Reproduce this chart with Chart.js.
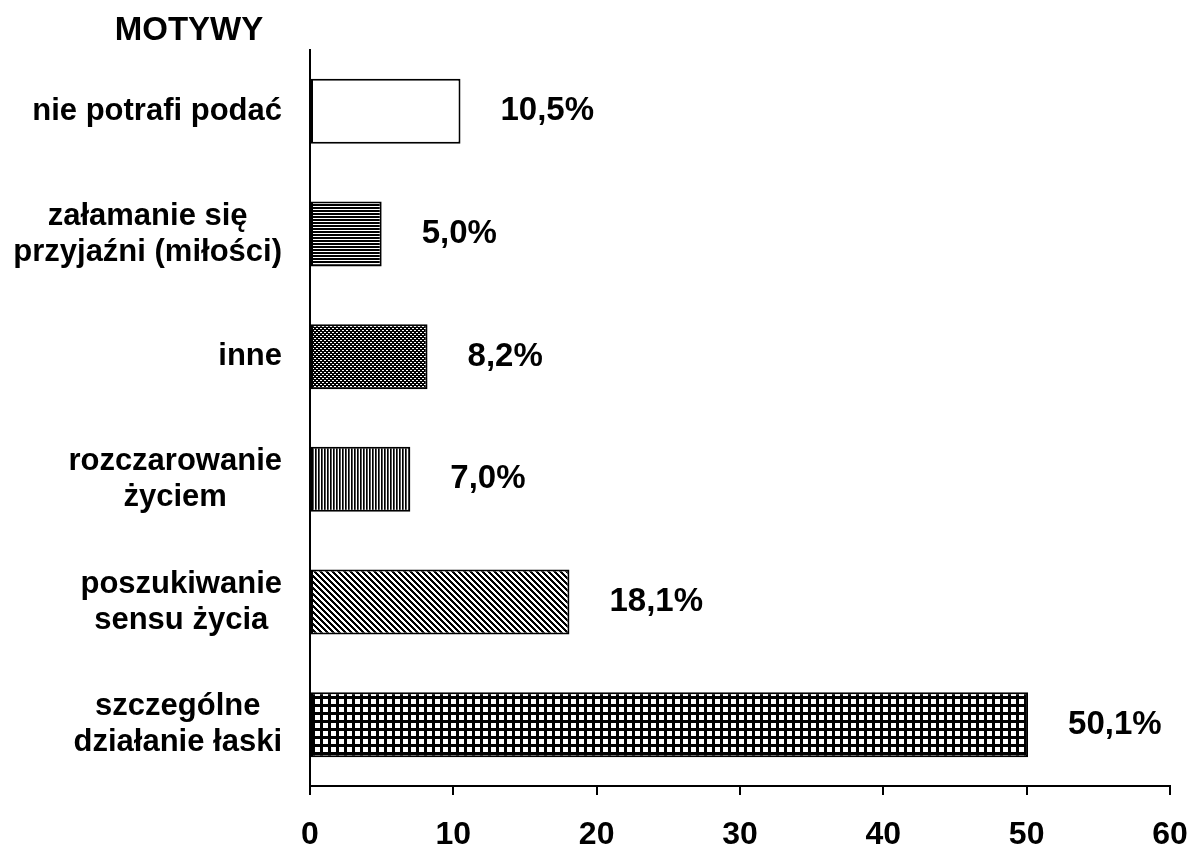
<!DOCTYPE html>
<html>
<head>
<meta charset="utf-8">
<script src="https://cdn.jsdelivr.net/npm/chart.js@4"></script>
<style>
  body { margin: 0; background: #fff; }
  #wrap { width: 1189px; height: 847px; }
</style>
</head>
<body>
<div id="wrap"><canvas id="motywyChart"></canvas></div>
<script>
const categories = [
  ["nie potrafi podać"],
  ["załamanie się", "przyjaźni (miłości)"],
  ["inne"],
  ["rozczarowanie", "życiem"],
  ["poszukiwanie", "sensu życia"],
  ["szczególne", "działanie łaski"]
];
const values = [10.5, 5.0, 8.2, 7.0, 18.1, 50.1];
const valueLabels = ["10,5%", "5,0%", "8,2%", "7,0%", "18,1%", "50,1%"];
const xTickValues = [0, 10, 20, 30, 40, 50, 60];
const axisTitle = "MOTYWY";

const FONT = '"Liberation Sans", Arial, sans-serif';

// small tiles for the hatch fills of the bars
function tile(size, draw) {
  const c = document.createElement("canvas");
  c.width = size;
  c.height = size;
  const g = c.getContext("2d");
  g.fillStyle = "#fff";
  g.fillRect(0, 0, size, size);
  g.fillStyle = "#000";
  draw(g, size);
  return c;
}

const ctx = document.getElementById("motywyChart").getContext("2d");

const fills = [
  "#fff",
  ctx.createPattern(tile(3, g => g.fillRect(0, 0, 3, 2)), "repeat"), // horizontal lines
  ctx.createPattern(tile(4, g => { //dark with small white dots
    g.fillRect(0, 0, 4, 4);
    g.fillStyle = "#fff";
    g.fillRect(0, 0, 2, 1);
    g.fillRect(2, 2, 2, 1);
  }), "repeat"),
  ctx.createPattern(tile(3, g => { //vertical lines
    g.fillRect(0, 0, 1, 3);
    g.fillStyle = "#555";
    g.fillRect(1, 0, 1, 3);
  }), "repeat"),
  ctx.createPattern(tile(6, g => { //diagonal \ lines
    for (let i = 0; i < 6; i++) {
      g.fillRect(i, i, 1, 1);
      g.fillRect((i + 1) % 6, i, 1, 1);
      g.fillRect((i + 2) % 6, i, 1, 1);
    }
  }), "repeat"),
  ctx.createPattern(tile(8, g => { //grid
    g.fillRect(0, 0, 8, 8);
    g.fillStyle = "#fff";
    g.fillRect(3, 3, 5, 5);
  }), "repeat")
];

// title, category labels and value labels drawn by hand
const textPlugin = {
  id: "texts",
  afterDraw(chart) {
    const c = chart.ctx;
    const yScale = chart.scales.y;
    const xScale = chart.scales.x;
    c.save();
    c.fillStyle = "#000";
    c.textBaseline = "middle";

    c.font = "bold 33px " + FONT;
    c.textAlign = "center";
    c.fillText(axisTitle, 189, 31);

    c.font = "bold 31px " + FONT;
    const rightEdge = chart.chartArea.left - 28;
    const lineGap = 36;
    categories.forEach((lines, i) => {
      const yc = yScale.getPixelForValue(i);
      const w = Math.max(...lines.map(l => c.measureText(l).width));
      const cx = rightEdge - w / 2;
      lines.forEach((l, j) => {
        c.fillText(l, cx, yc + (j - (lines.length - 1) / 2) * lineGap);
      });
    });

    c.font = "bold 33px " + FONT;
    c.textAlign = "left";
    values.forEach((v, i) => {
      c.fillText(valueLabels[i], xScale.getPixelForValue(v) + 40, yScale.getPixelForValue(i));
    });
    c.restore();
  }
};

new Chart(ctx, {
  type: "bar",
  data: {
    labels: categories,
    datasets: [{
      data: values,
      backgroundColor: fills,
      borderColor: "#000",
      borderWidth: 2,
      borderSkipped: false,
      categoryPercentage: 1,
      barPercentage: 0.53
    }]
  },
  options: {
    indexAxis: "y",
    responsive: true,
    maintainAspectRatio: false,
    animation: false,
    layout: { padding: { top: 50, right: 19, bottom: 0, left: 0 } },
    plugins: {
      legend: { display: false },
      tooltip: { enabled: false }
    },
    scales: {
      x: {
        min: 0,
        max: 60,
        afterBuildTicks: scale => { scale.ticks = xTickValues.map(v => ({ value: v })); },
        afterFit: scale => {
          scale.height = 61;
          scale.paddingLeft = 0;
          scale.paddingRight = 0;
        },
        grid: { drawOnChartArea: false, drawTicks: true, tickLength: 9, color: "#000", lineWidth: 2 },
        border: { display: true, color: "#000", width: 2 },
        ticks: { color: "#000", padding: 21, font: { family: FONT, size: 32, weight: "bold" } }
      },
      y: {
        afterFit: scale => { scale.width = 310; },
        grid: { display: false },
        border: { display: true, color: "#000", width: 2 },
        ticks: { display: false }
      }
    }
  },
  plugins: [textPlugin]
});
</script>
</body>
</html>
